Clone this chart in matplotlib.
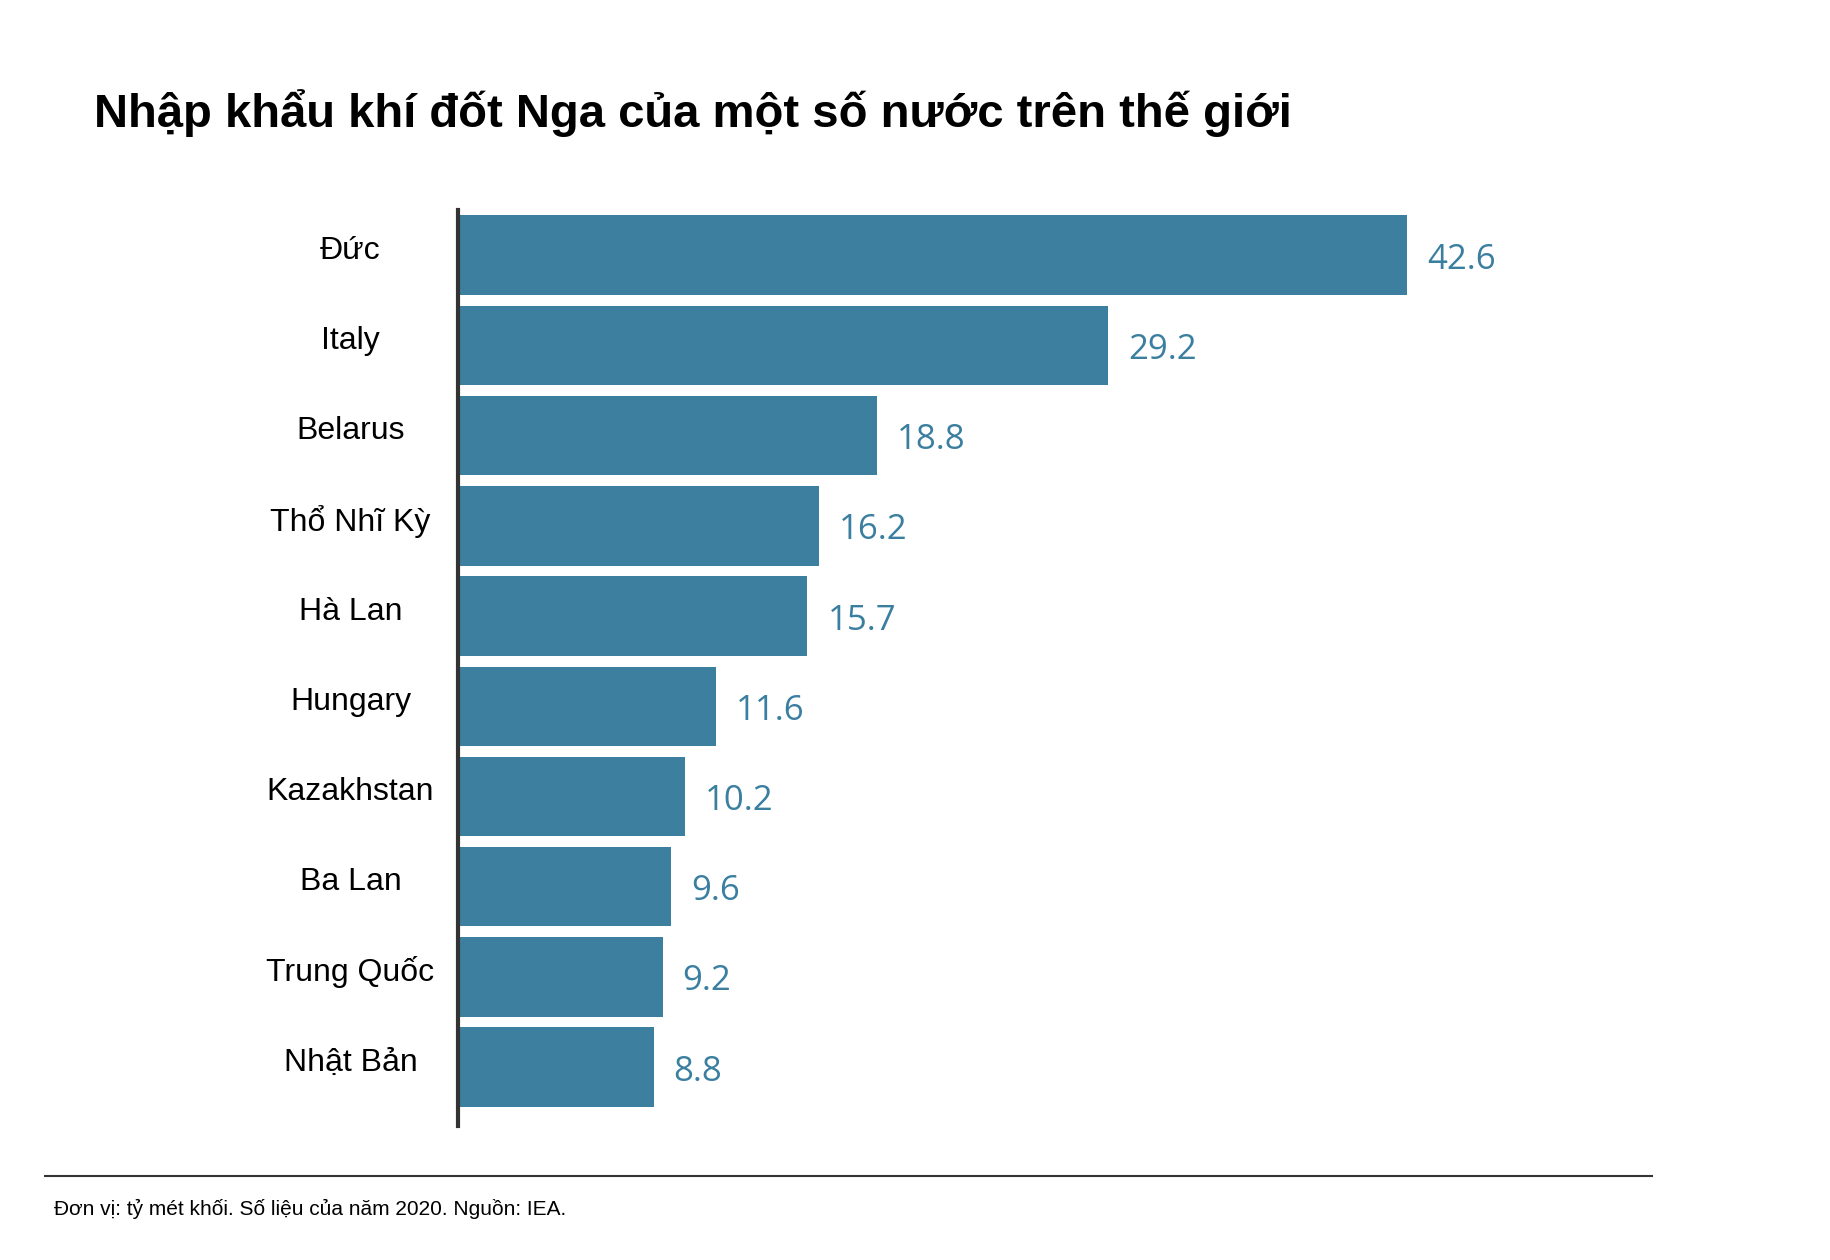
import matplotlib.pyplot as plt

countries = ["Đức", "Italy", "Belarus", "Thổ Nhĩ Kỳ", "Hà Lan", "Hungary",
             "Kazakhstan", "Ba Lan", "Trung Quốc", "Nhật Bản"]
values = [42.6, 29.2, 18.8, 16.2, 15.7, 11.6, 10.2, 9.6, 9.2, 8.8]

W, H = 1560, 1080
fig = plt.figure(figsize=(18.3, 12.6), dpi=100)
ax = fig.add_axes([390 / W, 1 - 965 / H, 1010 / W, 785 / H])

bar_color = "#3d7f9f"
ypos = list(range(len(countries)))
ax.barh(ypos, values, height=0.88, color=bar_color)
ax.set_ylim(len(countries) - 0.4, -0.6)
ax.set_xlim(0, 1010 / 19.0)
ax.invert_yaxis()
ax.set_ylim(len(countries) - 0.35, -0.5)

for y, v in zip(ypos, values):
    ax.text(v + 0.9, y + 0.05, f"{v}", va="center", ha="left",
            fontsize=25, color="#3a7ea0", family="Open Sans")
    ax.text(-4.8, y - 0.05, countries[countries.index(countries[y])], va="center",
            ha="center", fontsize=23, color="black", family="Liberation Sans")

for s in ["top", "right", "bottom"]:
    ax.spines[s].set_visible(False)
ax.spines["left"].set_linewidth(3)
ax.spines["left"].set_color("#333333")
ax.set_xticks([])
ax.set_yticks([])

fig.text(80 / W, 1 - 97 / H, "Nhập khẩu khí đốt Nga của một số nước trên thế giới",
         fontsize=34, fontweight="bold", family="Liberation Sans", va="center")
fig.add_artist(plt.Line2D([38 / W, 1408 / W], [1 - 1008 / H] * 2,
                          color="#333333", linewidth=1.5))
fig.text(46 / W, 1 - 1036 / H, "Đơn vị: tỷ mét khối. Số liệu của năm 2020. Nguồn: IEA.",
         fontsize=15, family="Liberation Sans", va="center")

fig.savefig("out.png", dpi=100, facecolor="white")
